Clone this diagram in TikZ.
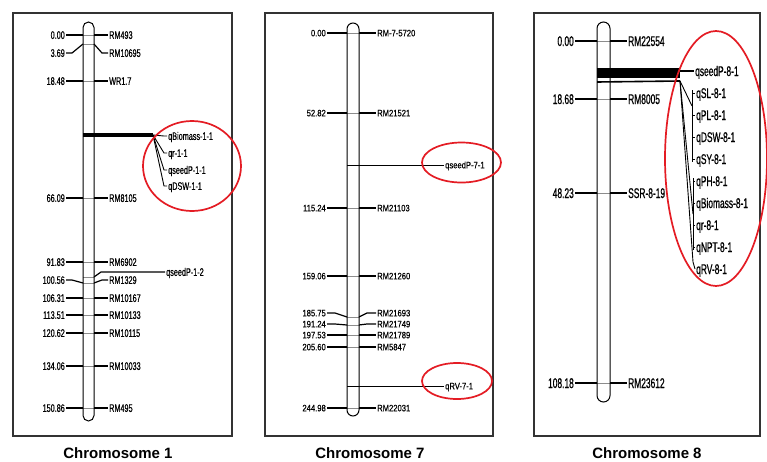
\documentclass[tikz,border=0pt]{standalone}
\usepackage{fontspec}
\setmainfont{Liberation Sans}
\newfontfamily\fa[FakeStretch=0.66,FakeBold=0.6]{Liberation Sans}
\newfontfamily\fb[FakeStretch=0.82,FakeBold=0.4]{Liberation Sans}
\newfontfamily\fc[FakeStretch=0.6,FakeBold=0.7]{Liberation Sans}
\definecolor{qred}{RGB}{228,28,36}
\begin{document}
\begin{tikzpicture}[x=1pt,y=-1pt,
 panel/.style={draw=black!80, line width=1.1pt},
 chromo/.style={draw=black, line width=1pt, inner sep=0pt},
 mk/.style={line width=1.2pt, black},
 ql/.style={line width=0.9pt, black},
 innerln/.style={line width=0.4pt, black!45},
 lA/.style={inner sep=1pt, font=\fa\fontsize{11}{11}\selectfont, text height=7.8pt, text depth=0pt},
 lB/.style={inner sep=1pt, font=\fb\fontsize{9.3}{9.3}\selectfont, text height=6.6pt, text depth=0pt},
 lC/.style={inner sep=1pt, font=\fc\fontsize{14}{14}\selectfont, text height=10pt, text depth=0pt},
 ttl/.style={font=\bfseries\fontsize{15}{15}\selectfont, inner sep=0pt},
 qtl/.style={draw=qred, line width=1.7pt},
]
\useasboundingbox (0,0) rectangle (767,461);
\fill[white] (0,0) rectangle (767,461);

% panels
\draw[panel] (13,13) rectangle (232,436);
\draw[panel] (265,13) rectangle (493,436);
\draw[panel] (534,13) rectangle (760,436);

% titles
\node[ttl] (t1) at (118,453) {Chromosome 1};
\node[ttl] (t7) at (370,453) {Chromosome 7};
\node[ttl] (t8) at (647,453) {Chromosome 8};

% ---------------- Chromosome 1 ----------------
\foreach \id/\yc/\yl/\num/\name in {a/35/35/0.00/RM493, b/44/53/3.69/RM10695, c/81/81/18.48/WR1.7,
  d/198/198/66.09/RM8105, e/262/262/91.83/RM6902, f/283/280/100.56/RM1329, g/298/298/106.31/RM10167,
  h/315/315/113.51/RM10133, i/333/333/120.62/RM10115, j/366/366/134.06/RM10033, k/408/408/150.86/RM495}{
  \node[lA, anchor=east] (c1n\id) at (66,\yl) {\num};
  \node[lA, anchor=west] (c1m\id) at (108,\yl) {\name};
  \coordinate (c1L\id) at (83,\yc);
  \coordinate (c1R\id) at (94,\yc);
  \draw[mk] (c1n\id.east) -- (72,\yl) -- (c1L\id);
  \draw[innerln] (c1L\id) -- (c1R\id);
  \draw[mk] (c1R\id) -- (102,\yl) -- (c1m\id.west);
}
% qseedP-1-2
\coordinate (c1qL) at (83,277);
\coordinate (c1qR) at (94,277);
\node[lA, anchor=west] (c1q2) at (165,272) {qseedP-1-2};
\draw[innerln] (c1qL) -- (c1qR);
\draw[mk] (c1qR) -- (101,272) -- (c1q2.west);
% thick bar and QTL cluster
\coordinate (c1bs) at (83,135);
\coordinate (c1be) at (153,135);
\draw[line width=4pt] (c1bs) -- (c1be);
\foreach \id/\y/\name in {a/136/qBiomass-1-1, b/153/qr-1-1, c/170/qseedP-1-1, d/186/qDSW-1-1}{
  \node[lA, anchor=west] (c1t\id) at (167,\y) {\name};
  \draw[ql] (c1be) -- (164,\y) -- (c1t\id.west);
}
\node[chromo, rounded corners=5.5pt, minimum width=11pt, minimum height=399pt] (chr1) at (88.5,221.5) {};
\draw[qtl] (192,166) ellipse [x radius=49, y radius=45];

% ---------------- Chromosome 7 ----------------
\foreach \id/\yc/\yl/\num/\name in {a/33/33/0.00/RM-7-5720, b/113/113/52.82/RM21521, c/208/208/115.24/RM21103,
  d/276/276/159.06/RM21260, e/317/313/185.75/RM21693, f/325/324/191.24/RM21749, g/335/335/197.53/RM21789,
  h/347/347/205.60/RM5847, i/408/408/244.98/RM22031}{
  \node[lB, anchor=east] (c7n\id) at (327,\yl) {\num};
  \node[lB, anchor=west] (c7m\id) at (376,\yl) {\name};
  \coordinate (c7L\id) at (347,\yc);
  \coordinate (c7R\id) at (359,\yc);
  \draw[mk] (c7n\id.east) -- (335,\yl) -- (c7L\id);
  \draw[innerln] (c7L\id) -- (c7R\id);
  \draw[mk] (c7R\id) -- (367,\yl) -- (c7m\id.west);
}
\coordinate (c7q1) at (347,165);
\node[lB, anchor=west] (c7t1) at (444,165) {qseedP-7-1};
\draw[ql] (c7q1) -- (c7t1.west);
\coordinate (c7q2) at (347,386);
\node[lB, anchor=west] (c7t2) at (444,386) {qRV-7-1};
\draw[ql] (c7q2) -- (c7t2.west);
\node[chromo, rounded corners=6pt, minimum width=12pt, minimum height=393pt] (chr7) at (353,219.5) {};
\draw[qtl] (461.5,162.5) ellipse [x radius=39.5, y radius=20];
\draw[qtl] (457,381) ellipse [x radius=35, y radius=18];

% ---------------- Chromosome 8 ----------------
\foreach \id/\yc/\yl/\num/\name in {a/41/41/0.00/RM22554, b/99/99/18.68/RM8005, c/193/193/48.23/SSR-8-19,
  d/383/383/108.18/RM23612}{
  \node[lC, anchor=east] (c8n\id) at (575,\yl) {\num};
  \node[lC, anchor=west] (c8m\id) at (627,\yl) {\name};
  \coordinate (c8L\id) at (597,\yc);
  \coordinate (c8R\id) at (610,\yc);
  \draw[mk] (c8n\id.east) -- (c8L\id);
  \draw[innerln] (c8L\id) -- (c8R\id);
  \draw[mk] (c8R\id) -- (c8m\id.west);
}
% band
\fill (597,67.5) rectangle (680,78);
\coordinate (c8ls) at (597,82);
\coordinate (c8fan) at (680,81);
\draw[line width=1.6pt] (c8ls) -- (c8fan);
\node[lC, anchor=west] (c8q0) at (694,71) {qseedP-8-1};
\draw[mk] (680,71) -- (c8q0.west);
% bracket group 1
\foreach \id/\y/\name in {a/93/qSL-8-1, b/115/qPL-8-1, c/137/qDSW-8-1, d/159/qSY-8-1}{
  \node[lC, anchor=west] (c8t\id) at (695,\y) {\name};
  \draw[ql] (692,\y) -- (c8t\id.west);
}
\draw[ql] (692,90) -- (692,162);
\draw[ql] (c8fan) -- (692,106);
% bracket group 2
\foreach \id/\y/\name in {e/181/qPH-8-1, f/203/qBiomass-8-1, g/225/qr-8-1, h/247/qNPT-8-1}{
  \node[lC, anchor=west] (c8t\id) at (695,\y) {\name};
  \draw[ql] (693,\y) -- (c8t\id.west);
}
\draw[ql] (693,178) -- (693,250);
\draw[ql] (c8fan) -- (693,214);
\node[lC, anchor=west] (c8ti) at (695,269) {qRV-8-1};
\draw[ql] (c8fan) -- (693,262) -- (c8ti.west);
\node[chromo, rounded corners=6.5pt, minimum width=13pt, minimum height=380pt] (chr8) at (603.5,212) {};
\draw[qtl] (716,158.5) ellipse [x radius=51, y radius=127.5];
\end{tikzpicture}
\end{document}
